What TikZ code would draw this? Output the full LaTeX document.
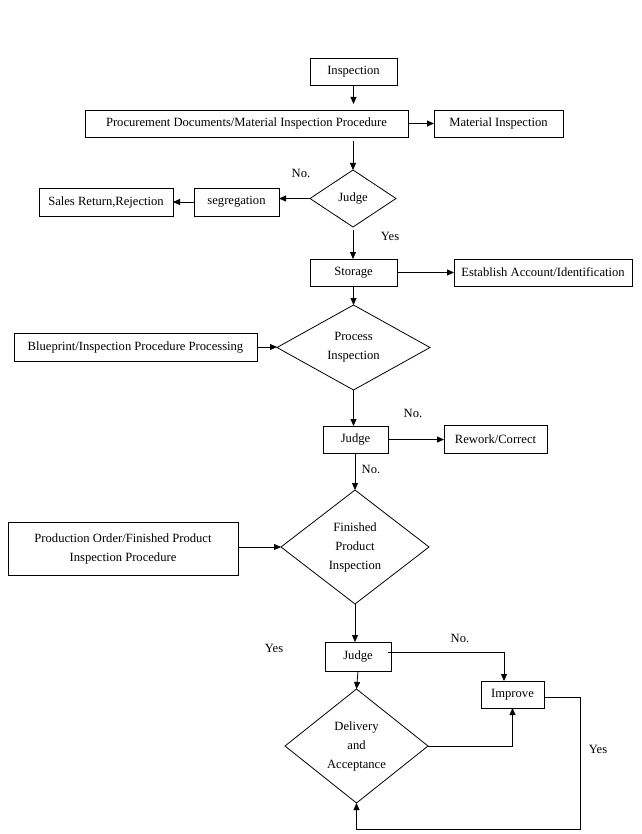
\documentclass[tikz,border=0pt]{standalone}
\usepackage{fontspec}
\setmainfont{Liberation Serif}
\usetikzlibrary{shapes.geometric,arrows.meta}
\begin{document}
\begin{tikzpicture}[x=1pt,y=1pt,
  every node/.style={font=\fontsize{12.6}{19}\selectfont, inner sep=0pt, outer sep=0pt},
  box/.style={draw, line width=0.8pt, align=center},
  dia/.style={draw, diamond, line width=0.8pt, align=center},
  arr/.style={line width=0.8pt, -{Triangle[length=7pt,width=6pt]}},
  ln/.style={line width=0.8pt},
  lbl/.style={}]
\useasboundingbox (0,0) rectangle (641,-834);
\fill[white] (0,0) rectangle (641,-834);

% nodes
\node[box, minimum width=87pt, minimum height=27pt] (insp) at (353.5,-71.5) {Inspection};
\node[box, minimum width=323pt, minimum height=27pt] (proc) at (246.5,-123.5) {Procurement Documents/Material Inspection Procedure};
\node[box, minimum width=129pt, minimum height=27pt] (mat) at (498.5,-123.5) {Material Inspection};
\node[dia, aspect=1.5, minimum width=86pt, minimum height=57pt] (judgeA) at (353,-198.5) {Judge};
\node[box, minimum width=85pt, minimum height=28pt] (seg) at (236.5,-202) {segregation};
\node[box, minimum width=134pt, minimum height=28pt] (sales) at (106,-202) {Sales Return,Rejection};
\node[box, minimum width=87pt, minimum height=27pt] (stor) at (353.5,-272.5) {Storage};
\node[box, minimum width=178pt, minimum height=27pt] (estab) at (543,-272.5) {Establish Account/Identification};
\node[dia, aspect=1.8, minimum width=153pt, minimum height=85pt] (pinsp) at (353.5,-347.5) {Process\\Inspection};
\node[box, minimum width=243pt, minimum height=28pt] (blue) at (135.5,-347) {Blueprint/Inspection Procedure Processing};
\node[box, minimum width=65pt, minimum height=27pt] (judgeB) at (355.5,-439.5) {Judge};
\node[box, minimum width=103pt, minimum height=28pt] (rework) at (495.5,-439) {Rework/Correct};
\node[dia, aspect=1.3, minimum width=148pt, minimum height=114pt] (finsp) at (355,-547) {Finished\\Product\\Inspection};
\node[box, minimum width=230pt, minimum height=53pt] (prod) at (123,-548.5) {Production Order/Finished Product\\Inspection Procedure};
\node[box, minimum width=66pt, minimum height=29pt] (judgeC) at (358,-656.5) {Judge};
\node[box, minimum width=63pt, minimum height=27pt] (impr) at (512.5,-694.5) {Improve};
\node[dia, aspect=1.25, minimum width=143pt, minimum height=114pt] (deliv) at (356.5,-746) {Delivery\\and\\Acceptance};

% labels
\node[lbl] (noA) at (301,-173) {No.};
\node[lbl] (yesA) at (390,-236) {Yes};
\node[lbl] (noB) at (413,-413) {No.};
\node[lbl] (noC) at (371,-469) {No.};
\node[lbl] (yesC) at (274,-648) {Yes};
\node[lbl] (noD) at (460,-638) {No.};
\node[lbl] (yesD) at (598,-749) {Yes};

% connectors
\draw[arr, shorten >=6pt] (insp.south) -- (insp.south |- proc.north);
\draw[arr] (proc.east) -- (mat.west);
\draw[arr, shorten <=4pt] (judgeA.north |- proc.south) -- (judgeA.north);
\draw[arr] (judgeA.west) -- (judgeA.west -| seg.east);
\draw[arr] (seg.west) -- (sales.east);
\draw[arr, shorten <=3pt] (judgeA.south) -- (judgeA.south |- stor.north);
\draw[arr] (stor.east) -- (estab.west);
\draw[arr] (stor.south -| pinsp.north) -- (pinsp.north);
\draw[arr] (blue.east) -- (blue.east -| pinsp.west);
\draw[arr] (pinsp.south) -- (pinsp.south |- judgeB.north);
\draw[arr] (judgeB.east) -- (judgeB.east -| rework.west);
\draw[arr] (finsp.north |- judgeB.south) -- (finsp.north);
\draw[arr] (finsp.west -| prod.east) -- (finsp.west);
\draw[arr] (finsp.south) -- (finsp.south |- judgeC.north);
\draw[arr] (judgeC.south) -- (deliv.north);
\coordinate (cA) at ([yshift=4.5pt, xshift=-3pt]judgeC.east);
\coordinate (cB) at ([xshift=-8.5pt]impr.north);
\draw[arr] (cA) -| (cB);
\draw[arr] (deliv.east) -| (impr.south);
\coordinate (cR) at (580,-829);
\draw[arr] ([yshift=-2.5pt]impr.east) -| (cR) -| (deliv.south);
\end{tikzpicture}
\end{document}
